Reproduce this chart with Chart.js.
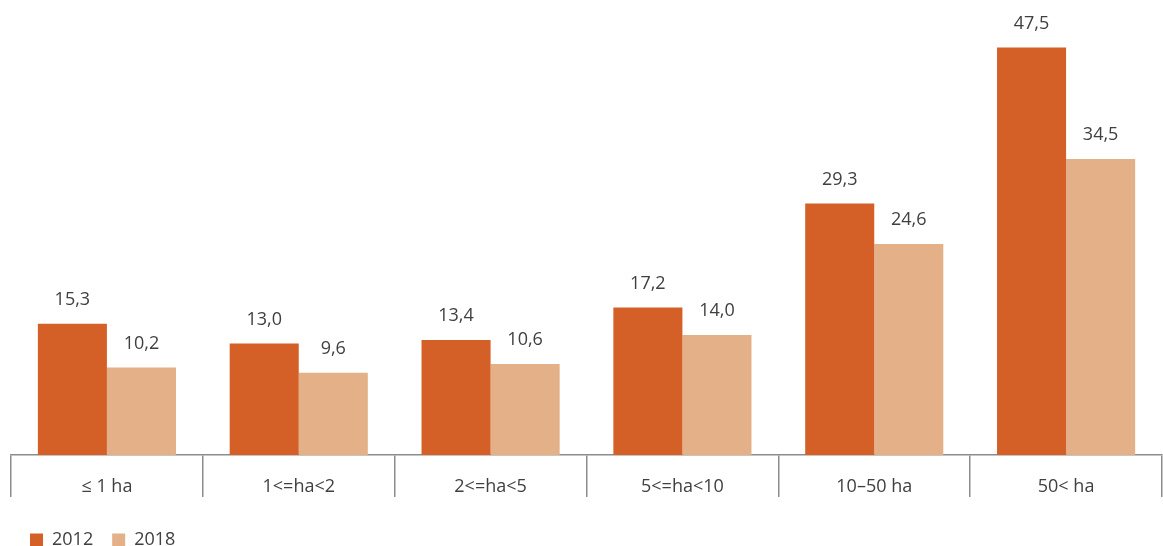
<!DOCTYPE html>
<html>
<head>
<meta charset="utf-8">
<script src="https://cdn.jsdelivr.net/npm/chart.js@4"></script>
<style>
  body { margin: 0; background: #fff; }
</style>
</head>
<body>
<canvas id="farmChart" width="1163" height="546"></canvas>
<script>
/* farm size classes and shares per year */
const sizeClasses = ["≤ 1 ha", "1<=ha<2", "2<=ha<5", "5<=ha<10", "10–50 ha", "50< ha"];
const years = ["2012", "2018"];
const values2012 = [15.3, 13.0, 13.4, 17.2, 29.3, 47.5];
const values2018 = [10.2, 9.6, 10.6, 14.0, 24.6, 34.5];

const darkOrange = "#D56027";
const lightOrange = "#E3B087";
const textColor = "#404040";
const axisColor = "#8c8c8c";

Chart.defaults.font.family = "'Open Sans', 'Noto Sans', sans-serif";
Chart.defaults.font.size = 18;
Chart.defaults.color = textColor;

// writes each bar's value above it, with a decimal comma
const valueLabels = {
  id: "valueLabels",
  afterDatasetsDraw(chart) {
    const ctx = chart.ctx;
    ctx.save();
    ctx.font = "18px 'Open Sans', 'Noto Sans', sans-serif";
    ctx.fillStyle = textColor;
    ctx.textAlign = "center";
    ctx.textBaseline = "middle";
    chart.data.datasets.forEach((ds, i) => {
      chart.getDatasetMeta(i).data.forEach((bar, j) => {
        const txt = ds.data[j].toFixed(1).replace(".", ",");
        ctx.fillText(txt, bar.x, bar.y - 24);
      });
    });
    ctx.restore();
  }
};

new Chart(document.getElementById("farmChart"), {
  type: "bar",
  data: {
    labels: sizeClasses,
    datasets: [
      { label: years[0], data: values2012, backgroundColor: darkOrange },
      { label: years[1], data: values2018, backgroundColor: lightOrange }
    ]
  },
  options: {
    responsive: false,
    animation: false,
    categoryPercentage: 0.72,
    barPercentage: 1,
    layout: { padding: { top: 26, left: 11, right: 1, bottom: -13 } },
    scales: {
      x: {
        // tall axis band: separators hang down, labels sit between them
        afterFit(scale) { scale.height = 57; },
        grid: {
          display: true,
          drawOnChartArea: false,
          tickLength: 42,
          color: axisColor,
          lineWidth: 1.5
        },
        border: { display: true, color: axisColor, width: 1.5 },
        ticks: {
          padding: -21,
          color: textColor,
          font: { size: 18 }
        }
      },
      y: {
        display: false,
        min: 0,
        max: 50
      }
    },
    plugins: {
      legend: {
        position: "bottom",
        align: "start",
        labels: {
          boxWidth: 13,
          boxHeight: 13,
          padding: 19,
          color: textColor,
          font: { size: 18 }
        }
      },
      tooltip: { enabled: false }
    }
  },
  plugins: [valueLabels]
});
</script>
</body>
</html>
